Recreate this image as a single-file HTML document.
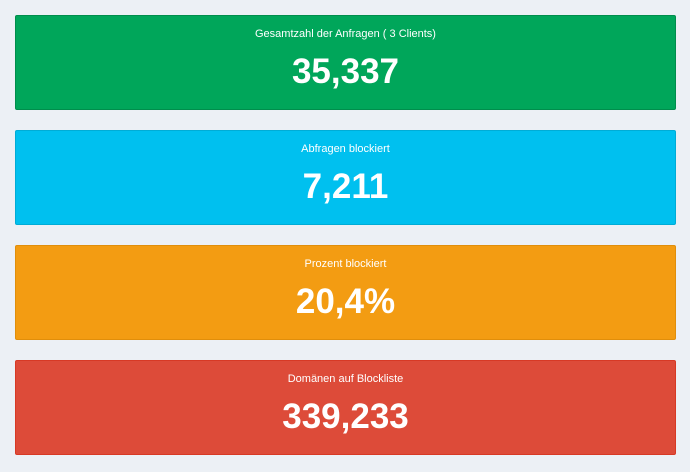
<!DOCTYPE html>
<html><head><meta charset="utf-8"><style>
html,body{margin:0;padding:0;}
body{width:690px;height:472px;background:#ecf0f5;position:relative;overflow:hidden;font-family:"Liberation Sans",sans-serif;color:#fff;}
.b{position:absolute;left:15px;width:661px;height:95px;border-radius:2px;text-align:center;box-sizing:border-box;}
.t{position:absolute;top:11px;left:0;right:0;font-size:11px;line-height:14px;}
.n{position:absolute;top:36px;left:0;right:0;font-size:35px;font-weight:bold;line-height:40px;}
</style></head><body>
<div class="b" style="top:15px;background:#00a65a;border:1px solid #008d4c"><div class="t">Gesamtzahl der Anfragen ( 3 Clients)</div><div class="n">35,337</div></div>
<div class="b" style="top:130px;background:#00c0ef;border:1px solid #00acd6"><div class="t">Abfragen blockiert</div><div class="n">7,211</div></div>
<div class="b" style="top:245px;background:#f39c12;border:1px solid #e08e0b"><div class="t">Prozent blockiert</div><div class="n">20,4%</div></div>
<div class="b" style="top:360px;background:#dd4b39;border:1px solid #d73925"><div class="t">Domänen auf Blockliste</div><div class="n">339,233</div></div>
</body></html>
